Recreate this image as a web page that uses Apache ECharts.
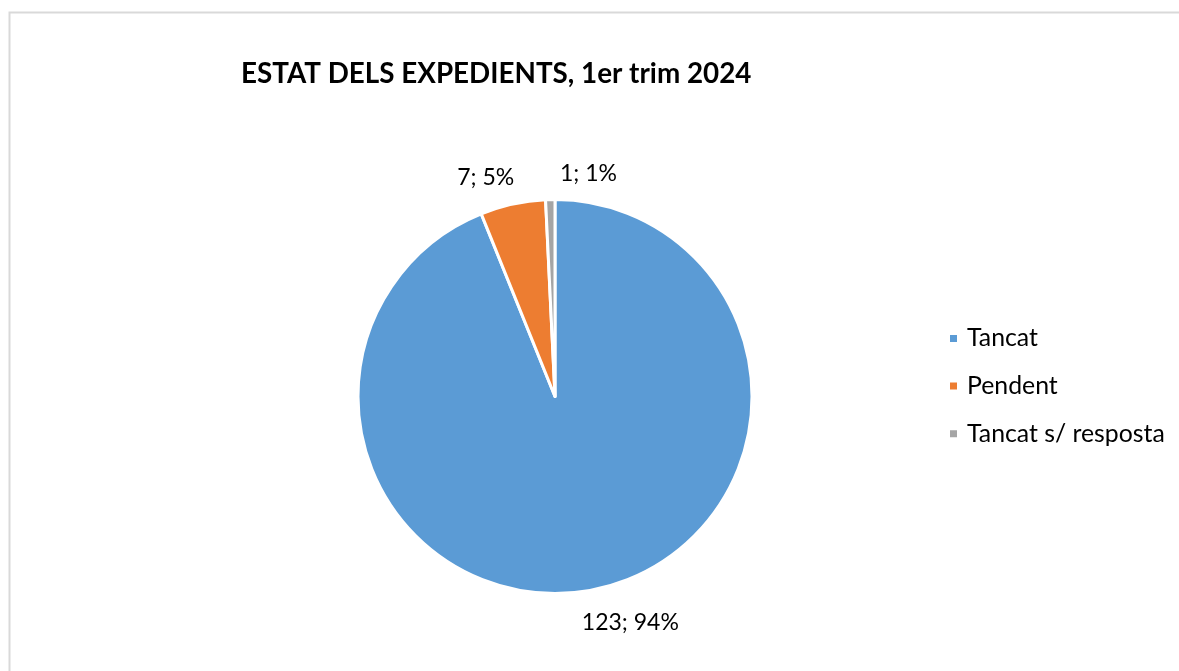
<!DOCTYPE html>
<html>
<head>
<meta charset="utf-8">
<script src="https://cdn.jsdelivr.net/npm/echarts@6/dist/echarts.min.js"></script>
<style>
  html, body { margin: 0; padding: 0; background: #fff; }
  #chart { width: 1179px; height: 671px; }
</style>
</head>
<body>
<div id="chart"></div>
<script>
// Case-file status, first quarter 2024
const categories = ['Tancat', 'Pendent', 'Tancat s/ resposta'];
const counts = [123, 7, 1];
const colors = ['#5B9BD5', '#ED7D31', '#A5A5A5'];
const titleText = 'ESTAT DELS EXPEDIENTS, 1er trim 2024';

const FONT = 'Lato, "Open Sans", sans-serif';

const chart = echarts.init(document.getElementById('chart'), null, { renderer: 'canvas' });

// small nudges so the outside labels sit clear of the thin slices
const labelNudge = [
  { dx: -18, dy: 21 },
  { dx: 9, dy: -15 },
  { dx: 72, dy: -14 }
];

chart.setOption({
  backgroundColor: '#ffffff',
  animation: false,
  graphic: [{
    type: 'rect',
    shape: { x: 9.5, y: 12.5, width: 1300, height: 800 },
    style: { fill: 'none', stroke: '#d9d9d9', lineWidth: 2 },
    silent: true
  }],
  title: {
    text: titleText,
    left: 236,
    top: 55,
    textStyle: { fontFamily: FONT, fontWeight: 'bold', fontSize: 27.8, color: '#000' }
  },
  legend: {
    orient: 'vertical',
    left: 943,
    top: 321,
    icon: 'rect',
    itemWidth: 9,
    itemHeight: 9,
    itemGap: 22.6,
    data: categories,
    textStyle: { fontFamily: FONT, fontSize: 24.8, color: '#000', padding: [0, 0, 0, 4] }
  },
  series: [{
    type: 'pie',
    center: [555, 396.5],
    radius: 197,
    startAngle: 90,
    clockwise: true,
    avoidLabelOverlap: false,
    itemStyle: { borderColor: '#ffffff', borderWidth: 3 },
    label: {
      show: true,
      position: 'outside',
      fontFamily: FONT,
      fontSize: 23,
      color: '#000',
      formatter: p => `${p.value}; ${Math.round(p.percent)}%`
    },
    labelLine: { show: false, length: 12, length2: 0 },
    labelLayout: p => labelNudge[p.dataIndex],
    emphasis: { disabled: true },
    data: categories.map((name, i) => ({
      name,
      value: counts[i],
      itemStyle: { color: colors[i] }
    }))
  }]
});
</script>
</body>
</html>
